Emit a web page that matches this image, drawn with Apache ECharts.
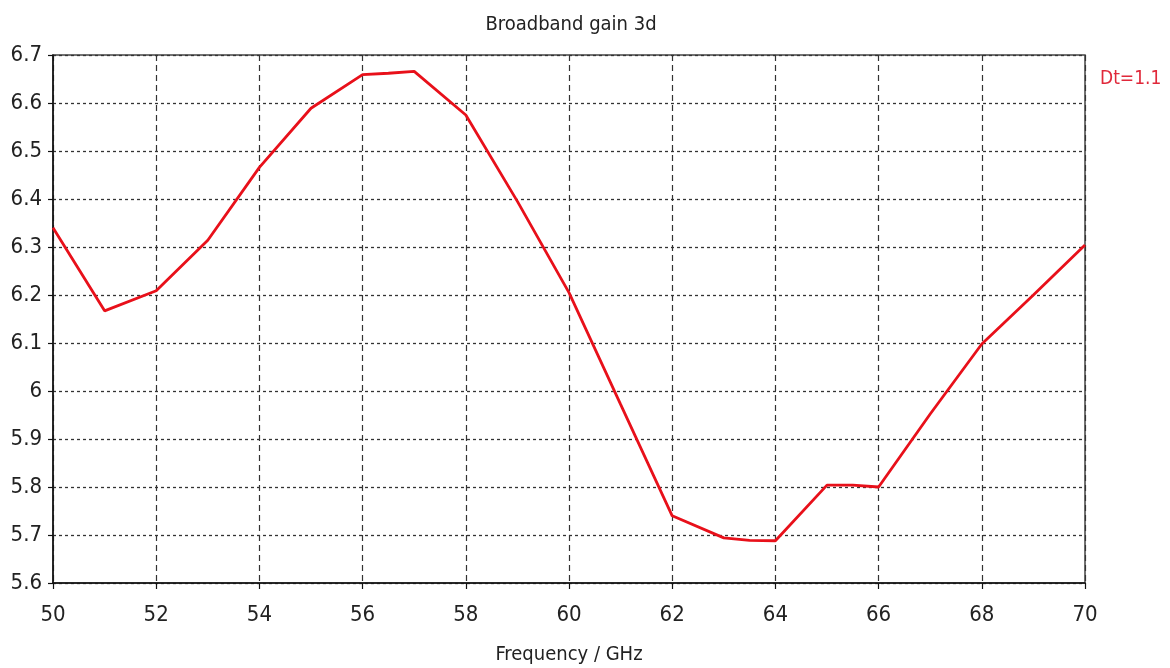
<!DOCTYPE html>
<html>
<head>
<meta charset="utf-8">
<script src="https://cdn.jsdelivr.net/npm/echarts@6/dist/echarts.min.js"></script>
<style>
  html, body { margin: 0; padding: 0; background: #fff; }
  #chart { width: 1170px; height: 668px; }
</style>
</head>
<body>
<div id="chart"></div>
<script>
// Simulated broadband gain (dB) versus frequency (GHz)
const freq = [50, 51, 52, 53, 54, 55, 56, 56.5, 57, 58, 59, 60, 61, 62, 63, 63.5, 64, 65, 65.5, 66, 67, 68, 69, 70];
const gain = [6.340, 6.167, 6.209, 6.314, 6.466, 6.589, 6.659, 6.662, 6.666, 6.575, 6.395, 6.205, 5.972, 5.740, 5.694, 5.689, 5.688, 5.804, 5.804, 5.800, 5.952, 6.098, 6.200, 6.304];
const xTicks = [50, 52, 54, 56, 58, 60, 62, 64, 66, 68, 70];
const yTicks = [5.6, 5.7, 5.8, 5.9, 6, 6.1, 6.2, 6.3, 6.4, 6.5, 6.6, 6.7];
const titleText = 'Broadband gain 3d';
const xName = 'Frequency / GHz';
const markerText = 'Dt=1.1';

const FONT = '"Liberation Sans Narrow", "DejaVu Sans Condensed", "Liberation Sans", sans-serif';

const chart = echarts.init(document.getElementById('chart'), null, { renderer: 'canvas' });

chart.setOption({
  backgroundColor: '#ffffff',
  animation: false,
  title: {
    text: titleText,
    left: 566,
    textAlign: 'center',
    top: 10,
    textStyle: { fontFamily: FONT, fontSize: 20, fontWeight: 'normal', color: '#222' }
  },
  grid: {
    left: 53, right: 85, top: 55, bottom: 85,
    outerBoundsMode: 'none',
    containLabel: false,
    show: true, borderColor: '#444', borderWidth: 1.5, backgroundColor: 'transparent'
  },
  xAxis: {
    type: 'value',
    min: xTicks[0],
    max: xTicks[xTicks.length - 1],
    interval: 2,
    name: xName,
    nameLocation: 'middle',
    nameGap: 62,
    nameTextStyle: { fontFamily: FONT, fontSize: 20, color: '#222' },
    axisLine: { show: true, lineStyle: { color: '#111', width: 1.5 } },
    axisTick: { show: true, length: 6, lineStyle: { color: '#111', width: 1.2 } },
    axisLabel: {
      margin: 21,
      fontFamily: FONT, fontSize: 22, color: '#222',
      formatter: v => xTicks.includes(v) ? String(v) : ''
    },
    splitLine: { show: true, lineStyle: { color: '#333', width: 1.2, type: [6, 4] } }
  },
  yAxis: {
    type: 'value',
    min: yTicks[0],
    max: yTicks[yTicks.length - 1],
    interval: 0.1,
    axisLine: { show: true, lineStyle: { color: '#111', width: 1.5 } },
    axisTick: { show: true, length: 5, lineStyle: { color: '#111', width: 1.2 } },
    axisLabel: {
      margin: 11,
      fontFamily: FONT, fontSize: 22, color: '#222',
      formatter: v => String(Math.round(v * 10) / 10)
    },
    splitLine: { show: true, lineStyle: { color: '#333', width: 1.3, type: [3, 3] } }
  },
  series: [{
    type: 'line',
    data: freq.map((f, i) => [f, gain[i]]),
    showSymbol: false,
    symbol: 'none',
    lineStyle: { color: '#e8101a', width: 2.8 },
    z: 5
  }],
  graphic: [{
    type: 'text',
    left: 1100,
    top: 70,
    style: { text: markerText, fontFamily: FONT, fontSize: 19, fill: '#e0283a' }
  }]
});
</script>
</body>
</html>
